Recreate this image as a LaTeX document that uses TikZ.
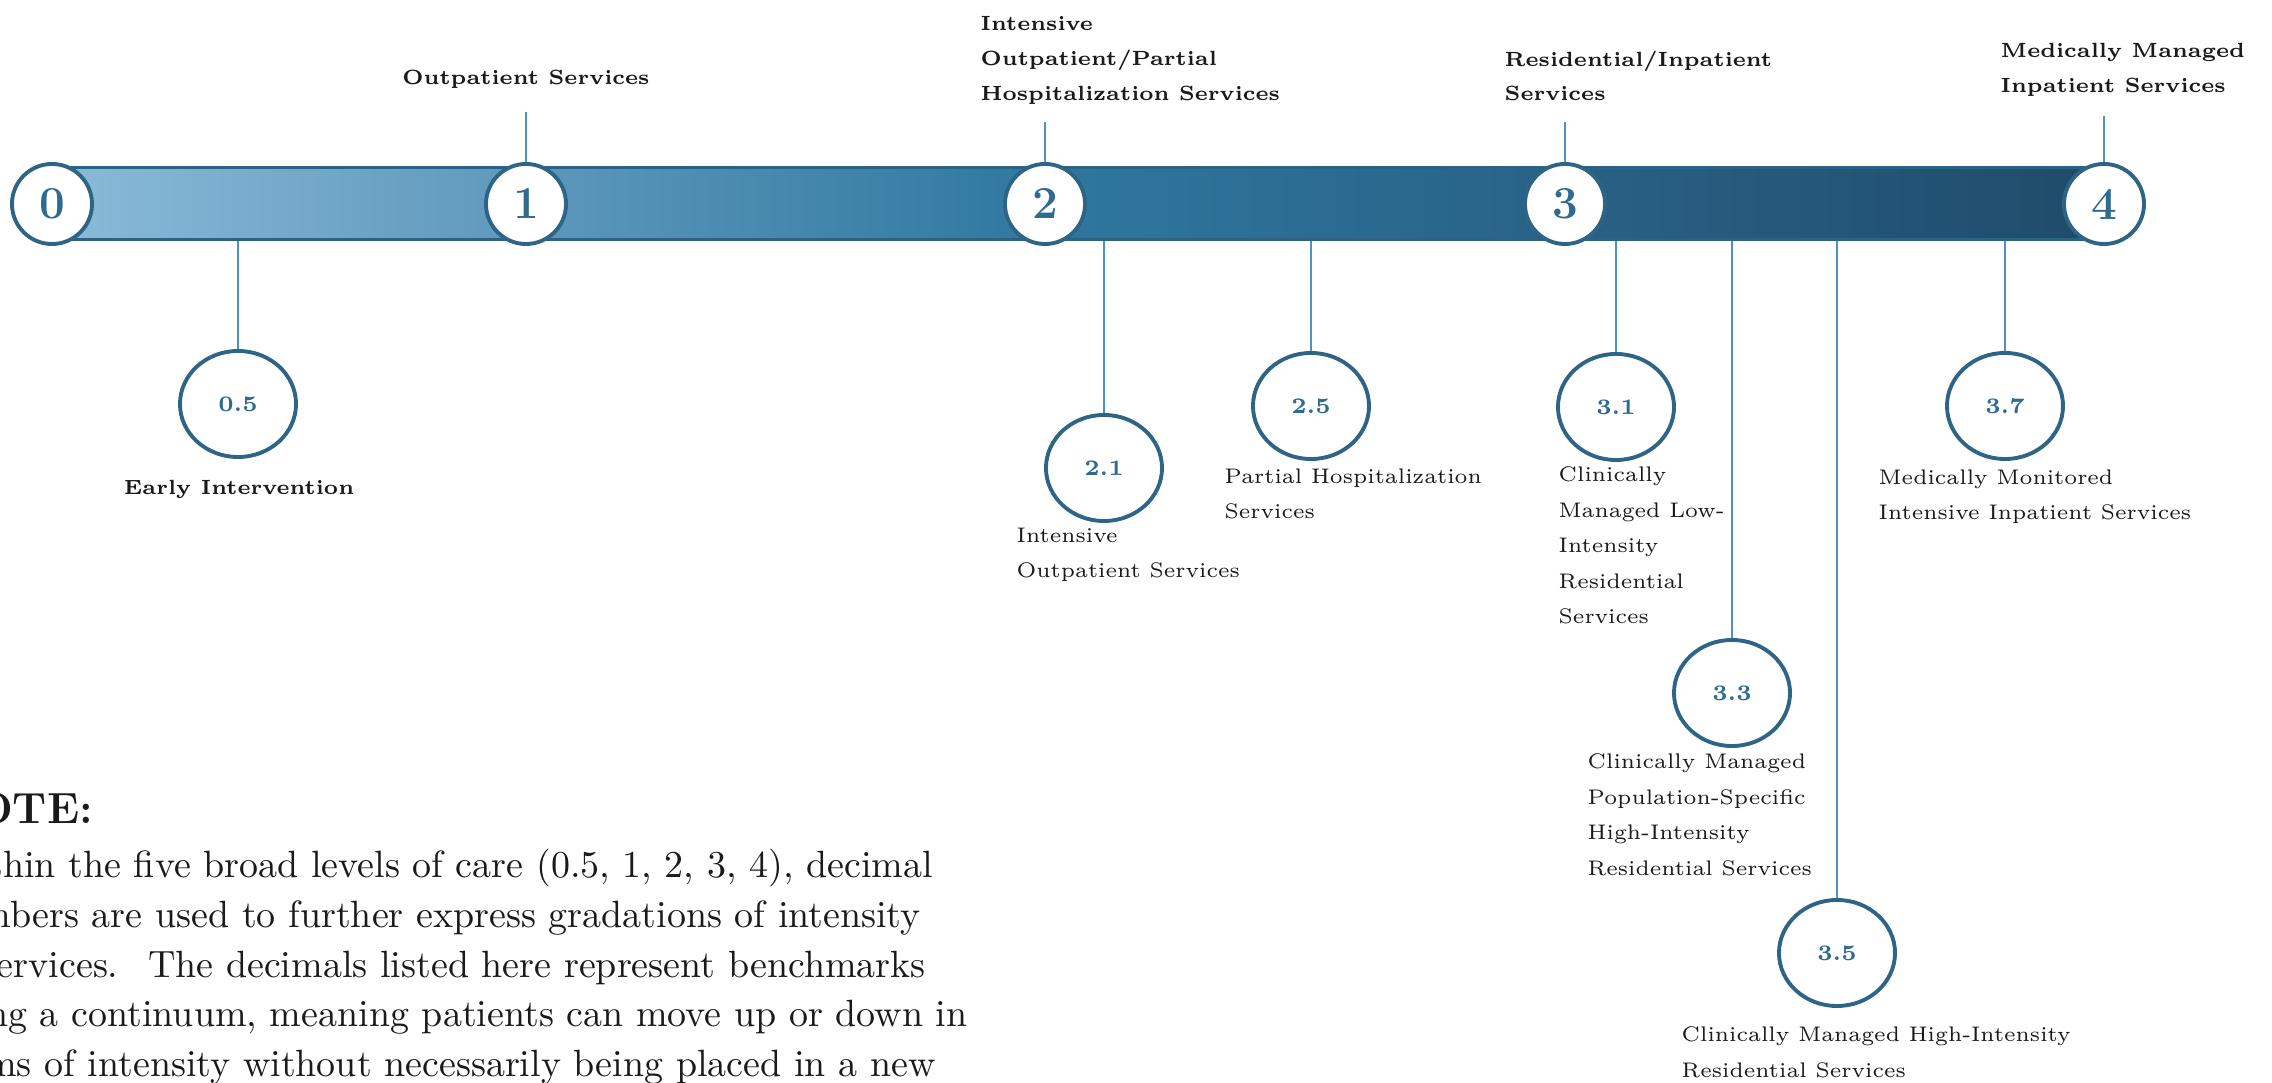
\documentclass[tikz,border=0pt]{standalone}
\usetikzlibrary{shapes.geometric}
\definecolor{barA}{HTML}{8BBBD8}
\definecolor{barB}{HTML}{5E98BC}
\definecolor{barC}{HTML}{2F78A0}
\definecolor{barD}{HTML}{296287}
\definecolor{barE}{HTML}{1F4B69}
\definecolor{barline}{HTML}{2C6283}
\definecolor{ringc}{HTML}{2E6586}
\definecolor{numc}{HTML}{2F6A8F}
\definecolor{linkc}{HTML}{4B93C3}
\definecolor{txtc}{HTML}{1A1A1A}
\pgfdeclarehorizontalshading{barshade}{100bp}{color(0bp)=(barA); color(25bp)=(barA); color(36.5bp)=(barB); color(49bp)=(barC); color(61.5bp)=(barD); color(75bp)=(barE); color(100bp)=(barE)}
\newcommand\lblfont{\fontsize{6.0}{10.1}\selectfont}
\newcommand\topfont{\fontsize{5.85}{9.9}\selectfont\bfseries}
\newcommand\notefont{\fontsize{10.8}{14.2}\selectfont}
\begin{document}
\begin{tikzpicture}[x=0.01cm,y=-0.01cm,
  barbox/.style={rectangle, draw=barline, line width=0.85pt, shade, shading=barshade, minimum width=20.52cm, minimum height=0.71cm, inner sep=0pt},
  bigc/.style={circle, draw=ringc, line width=1.1pt, fill=white, minimum size=0.8cm, inner sep=0pt, text=numc, font=\fontsize{13}{13}\selectfont\bfseries},
  smallc/.style={ellipse, draw=ringc, line width=1.1pt, fill=white, minimum width=1.16cm, minimum height=1.06cm, inner sep=0pt, text=numc, font=\fontsize{6.3}{6.3}\selectfont\bfseries},
  link/.style={draw=linkc, line width=0.6pt},
  toplbl/.style={font=\topfont, text=txtc, align=left, anchor=north west, inner sep=0pt},
  sublbl/.style={font=\lblfont, text=txtc, align=left, anchor=north west, inner sep=0pt},
  notelbl/.style={font=\notefont, text=txtc, align=left, anchor=north west, inner sep=0pt}]
\useasboundingbox[fill=white] (0,0) rectangle (2272,1083);
% bar
\node[barbox] (bar) at (1078,203.5) {};
% big circles
\node[bigc] (c0) at (52,204) {0};
\node[bigc] (c1) at (526,204) {1};
\node[bigc] (c2) at (1045,204) {2};
\node[bigc] (c3) at (1565,204) {3};
\node[bigc] (c4) at (2104,204) {4};
% top labels
\node[toplbl, anchor=north] (l1) at (526,69) {Outpatient Services};
\node[toplbl] (l2) at (980,16) {Intensive\\Outpatient/Partial\\Hospitalization Services};
\node[toplbl] (l3) at (1504,50) {Residential/Inpatient\\Services};
\node[toplbl] (l4) at (2000,43) {Medically Managed\\Inpatient Services};
\coordinate (t1) at (526,112);
\coordinate (t2) at (1045,122);
\coordinate (t3) at (1565,122);
\coordinate (t4) at (2104,116);
\draw[link] (c1.north) -- (t1);
\draw[link] (c2.north) -- (t2);
\draw[link] (c3.north) -- (t3);
\draw[link] (c4.north) -- (t4);
% sub levels
\node[smallc] (s05) at (238,404) {0.5};
\node[smallc] (s21) at (1104,468) {2.1};
\node[smallc] (s25) at (1311,406) {2.5};
\node[smallc] (s31) at (1616,407) {3.1};
\node[smallc] (s33) at (1732,693) {3.3};
\node[smallc] (s35) at (1837,953) {3.5};
\node[smallc] (s37) at (2005,406) {3.7};
\foreach \s in {s05,s21,s25,s31,s33,s35,s37}
  \draw[link] (bar.south -| \s.north) -- (\s.north);
\node[toplbl, anchor=north] (e05) at (239,480) {Early Intervention};
\node[sublbl] (e21) at (1016,527) {Intensive\\Outpatient Services};
\node[sublbl] (e25) at (1224,468) {Partial Hospitalization\\Services};
\node[sublbl] (e31) at (1558,466) {Clinically\\Managed Low-\\Intensity\\Residential\\Services};
\node[sublbl] (e33) at (1587,753) {Clinically Managed\\Population-Specific\\High-Intensity\\Residential Services};
\node[sublbl] (e35) at (1681,1026) {Clinically Managed High-Intensity\\Residential Services};
\node[sublbl] (e37) at (1878,469) {Medically Monitored\\Intensive Inpatient Services};
% note
\node[notelbl, font=\fontsize{12.4}{14}\selectfont\bfseries] (nt) at (-63,792) {NOTE:};
\node[notelbl] (nb) at (-62,848) {Within the five broad levels of care (0.5, 1, 2, 3, 4), decimal\\numbers are used to further express gradations of intensity\\of services.~ The decimals listed here represent benchmarks\\along a continuum, meaning patients can move up or down in\\terms of intensity without necessarily being placed in a new};
\end{tikzpicture}
\end{document}
